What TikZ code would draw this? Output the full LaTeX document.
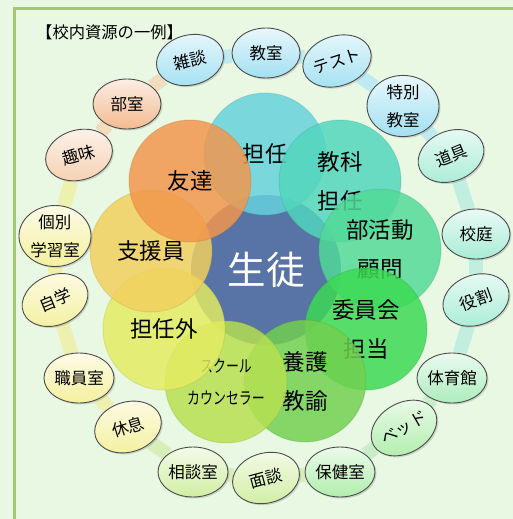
\documentclass[tikz,border=0pt]{standalone}
\usepackage{fontspec}
\usepackage{graphicx}
\setmainfont{Noto Sans CJK JP}
\usetikzlibrary{shapes.geometric,shadows}
\definecolor{bgc}{HTML}{E8F8E2}
\definecolor{framec}{HTML}{A3C96F}
\definecolor{centerc}{HTML}{5873A5}
\definecolor{pA}{HTML}{66D2DC}
\definecolor{pB}{HTML}{52D6BE}
\definecolor{pC}{HTML}{52DA98}
\definecolor{pD}{HTML}{3CDA54}
\definecolor{pE}{HTML}{72D050}
\definecolor{pF}{HTML}{B6E050}
\definecolor{pG}{HTML}{E4EC62}
\definecolor{pH}{HTML}{F2D05E}
\definecolor{pI}{HTML}{F2964C}
\definecolor{oCyan}{HTML}{A2E0F2}
\definecolor{oMint}{HTML}{A8ECD6}
\definecolor{oGreen}{HTML}{B0EEAC}
\definecolor{oLime}{HTML}{D0EEA2}
\definecolor{oYel}{HTML}{F4F09E}
\definecolor{oPeach}{HTML}{F6D0B0}
\definecolor{oOrange}{HTML}{F4BA90}
\definecolor{bCyan}{HTML}{BFEAF3}
\definecolor{bPeach}{HTML}{F2DCC0}
\definecolor{bYel}{HTML}{EEF0B0}
\definecolor{bLime}{HTML}{D8EEB8}
\definecolor{bGreen}{HTML}{C8EEC8}
\definecolor{bMint}{HTML}{C2EEDF}
\pgfdeclarelayer{back}
\pgfdeclarelayer{links}
\pgfsetlayers{back,links,main}
\tikzset{
  petal/.style={circle, minimum size=122pt, inner sep=0pt, fill=#1, fill opacity=0.84, text opacity=1, draw=#1!75!black, draw opacity=0.25, line width=1pt, align=center, font=\fontsize{22.5}{39}\selectfont},
  outer/.style={ellipse, minimum width=68pt, minimum height=50pt, inner sep=0pt, draw=black!70, line width=0.9pt, top color=#1!25!white, bottom color=#1, align=center, font=\fontsize{16.5}{28}\selectfont, drop shadow={shadow xshift=1.5pt, shadow yshift=-1.5pt, opacity=0.3}},
  twoline/.style={minimum width=72pt, minimum height=60pt},
  band/.style={line width=14pt, draw=#1},
}
\begin{document}
\begin{tikzpicture}[x=1pt,y=-1pt]
\useasboundingbox (0,0) rectangle (513,519);
\begin{pgfonlayer}{back}
\fill[bgc] (0,0) rectangle (513,519);
\draw[framec, line width=3pt] (14,519) -- (14,9) -- (513,9);
\end{pgfonlayer}

\node[anchor=west, inner sep=0pt, font=\fontsize{16.3}{18}\selectfont] (title) at (36,32) {【校内資源の一例】};

% center
\node[circle, minimum size=150pt, inner sep=0pt, fill=centerc, text=white, font=\fontsize{38.5}{42}\selectfont] (seito) at (266,270) {生徒};

% petals
\node[petal=pA] (tannin) at (265,154) {担任};
\node[petal=pB] (kyouka) at (340,181) {教科\\担任};
\node[petal=pC] (bukatsu) at (380,250) {部活動\\顧問};
\node[petal=pD] (iinkai) at (366,329) {委員会\\担当};
\node[petal=pE] (yougo) at (305,381) {養護\\教諭};
\node[petal=pF, font=\fontsize{17}{32}\selectfont] (sc) at (226,382) {\scalebox{0.76}[1]{スクール}\\\scalebox{0.76}[1]{カウンセラー}};
\node[petal=pG] (tanningai) at (164,329) {担任外};
\node[petal=pH] (shienin) at (151,251) {支援員};
\node[petal=pI] (tomodachi) at (190,181) {友達};

% outer ring
\node[outer=oCyan, rotate=14] (zatsudan) at (190,60) {雑談};
\node[outer=oCyan] (kyoshitsu) at (266,53) {教室};
\node[outer=oCyan, rotate=18] (test) at (337,61) {テスト};
\node[outer=oCyan, twoline] (tokubetsu) at (403,106) {特別\\教室};
\node[outer=oMint, rotate=22] (dougu) at (451,156) {道具};
\node[outer=oMint] (koutei) at (476,234) {校庭};
\node[outer=oMint, rotate=20] (yakuwari) at (476,300) {役割};
\node[outer=oGreen!60!oMint] (taiikukan) at (452,378) {体育館};
\node[outer=oGreen, rotate=30] (bed) at (404,428) {ベッド};
\node[outer=oGreen] (hokenshitsu) at (340,472) {保健室};
\node[outer=oLime, rotate=15] (mendan) at (266,478) {面談};
\node[outer=oLime] (soudanshitsu) at (193,472) {相談室};
\node[outer=oYel, rotate=17] (kyusoku) at (128,427) {休息};
\node[outer=oYel] (shokuin) at (79,378) {職員室};
\node[outer=oYel, rotate=22] (jigaku) at (55,300) {自学};
\node[outer=oYel, twoline] (kobetsu) at (55,236) {個別\\学習室};
\node[outer=oPeach, rotate=16] (shumi) at (79,155) {趣味};
\node[outer=oOrange] (bushitsu) at (127,104) {部室};

\begin{pgfonlayer}{links}
\draw[band=bCyan] (kyoshitsu) -- (test);
\draw[band=bCyan] (test) -- (tokubetsu);
\draw[band=bCyan] (tokubetsu) -- (dougu);
\draw[band=bMint] (dougu) -- (koutei);
\draw[band=bMint] (koutei) -- (yakuwari);
\draw[band=bMint] (yakuwari) -- (taiikukan);
\draw[band=bGreen] (taiikukan) -- (bed);
\draw[band=bGreen] (bed) -- (hokenshitsu);
\draw[band=bLime] (hokenshitsu) -- (mendan);
\draw[band=bLime] (mendan) -- (soudanshitsu);
\draw[band=bLime] (soudanshitsu) -- (kyusoku);
\draw[band=bYel] (kyusoku) -- (shokuin);
\draw[band=bYel] (shokuin) -- (jigaku);
\draw[band=bYel] (jigaku) -- (kobetsu);
\draw[band=bYel] (kobetsu) -- (shumi);
\draw[band=bPeach] (shumi) -- (bushitsu);
\draw[band=bPeach] (bushitsu) -- (zatsudan);
\draw[band=bCyan] (zatsudan) -- (kyoshitsu);
\end{pgfonlayer}
\end{tikzpicture}
\end{document}
